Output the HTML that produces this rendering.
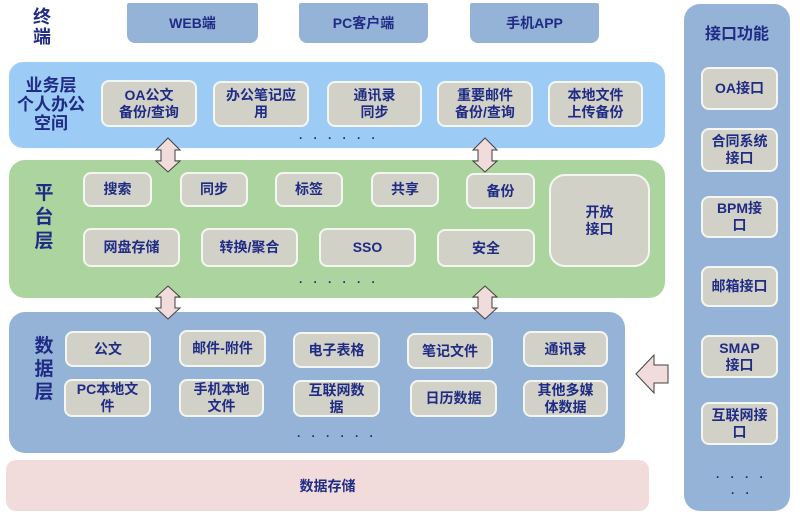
<!DOCTYPE html>
<html><head><meta charset="utf-8">
<style>
html,body{margin:0;padding:0;background:#fff;}
body{width:800px;height:515px;position:relative;overflow:hidden;font-family:"Liberation Sans","Noto Sans CJK SC",sans-serif;font-weight:bold;color:#1f2b85;}
.a{position:absolute;box-sizing:border-box;}
.c{display:flex;align-items:center;justify-content:center;text-align:center;}
.term{background:#95b3d7;border-radius:2px 2px 8px 8px;font-size:14px;}
.bx{background:#d1d1c7;border:2px solid #f4f6f2;border-radius:8px;font-size:14px;line-height:17px;}
.lbl{font-size:17px;line-height:19px;text-align:center;}
.dots{font-size:12px;letter-spacing:10.5px;line-height:10px;white-space:nowrap;}
</style></head><body>

<!-- terminal -->
<div class="a lbl" style="left:30px;top:7px;width:24px;font-size:18px;line-height:20px;">终<br>端</div>
<div class="a c term" style="left:127px;top:3px;width:131px;height:40px;">WEB端</div>
<div class="a c term" style="left:299px;top:3px;width:129px;height:40px;">PC客户端</div>
<div class="a c term" style="left:470px;top:3px;width:129px;height:40px;">手机APP</div>

<!-- business layer -->
<div class="a" style="left:9px;top:62px;width:656px;height:86px;background:#9ccbf6;border-radius:14px;"></div>
<div class="a lbl" style="left:9px;top:76px;width:84px;line-height:19px;">业务层<br>个人办公<br>空间</div>
<div class="a c bx" style="left:101px;top:80px;width:96px;height:47px;">OA公文<br>备份/查询</div>
<div class="a c bx" style="left:213px;top:81px;width:96px;height:46px;">办公笔记应<br>用</div>
<div class="a c bx" style="left:327px;top:81px;width:95px;height:46px;">通讯录<br>同步</div>
<div class="a c bx" style="left:437px;top:81px;width:96px;height:46px;">重要邮件<br>备份/查询</div>
<div class="a c bx" style="left:548px;top:81px;width:95px;height:46px;">本地文件<br>上传备份</div>
<div class="a dots" style="left:299px;top:133px;">······</div>

<!-- platform layer -->
<div class="a" style="left:9px;top:160px;width:656px;height:138px;background:#acd49e;border-radius:16px;"></div>
<div class="a lbl" style="left:32px;top:182px;width:24px;font-size:19px;line-height:24px;">平<br>台<br>层</div>
<div class="a c bx" style="left:83px;top:172px;width:69px;height:35px;">搜索</div>
<div class="a c bx" style="left:180px;top:172px;width:68px;height:35px;">同步</div>
<div class="a c bx" style="left:275px;top:172px;width:68px;height:35px;">标签</div>
<div class="a c bx" style="left:371px;top:172px;width:68px;height:35px;">共享</div>
<div class="a c bx" style="left:466px;top:173px;width:69px;height:36px;">备份</div>
<div class="a c bx" style="left:549px;top:174px;width:101px;height:93px;border-radius:16px;">开放<br>接口</div>
<div class="a c bx" style="left:83px;top:228px;width:97px;height:39px;">网盘存储</div>
<div class="a c bx" style="left:201px;top:228px;width:97px;height:39px;">转换/聚合</div>
<div class="a c bx" style="left:319px;top:228px;width:97px;height:39px;">SSO</div>
<div class="a c bx" style="left:437px;top:229px;width:98px;height:38px;">安全</div>
<div class="a dots" style="left:299px;top:277px;">······</div>

<!-- data layer -->
<div class="a" style="left:9px;top:312px;width:616px;height:141px;background:#95b3d7;border-radius:16px;"></div>
<div class="a lbl" style="left:32px;top:335px;width:24px;font-size:19px;line-height:23px;">数<br>据<br>层</div>
<div class="a c bx" style="left:65px;top:331px;width:86px;height:36px;">公文</div>
<div class="a c bx" style="left:179px;top:330px;width:87px;height:37px;">邮件-附件</div>
<div class="a c bx" style="left:293px;top:332px;width:87px;height:36px;">电子表格</div>
<div class="a c bx" style="left:407px;top:333px;width:86px;height:36px;">笔记文件</div>
<div class="a c bx" style="left:523px;top:331px;width:85px;height:36px;">通讯录</div>
<div class="a c bx" style="left:64px;top:379px;width:87px;height:38px;">PC本地文<br>件</div>
<div class="a c bx" style="left:179px;top:379px;width:85px;height:38px;">手机本地<br>文件</div>
<div class="a c bx" style="left:293px;top:380px;width:87px;height:37px;">互联网数<br>据</div>
<div class="a c bx" style="left:410px;top:380px;width:87px;height:37px;">日历数据</div>
<div class="a c bx" style="left:523px;top:380px;width:85px;height:37px;">其他多媒<br>体数据</div>
<div class="a dots" style="left:297px;top:431px;">······</div>

<!-- data storage -->
<div class="a c" style="left:6px;top:460px;width:643px;height:51px;background:#f2dcdb;border-radius:10px;font-size:14px;">数据存储</div>

<!-- right panel -->
<div class="a" style="left:684px;top:4px;width:106px;height:507px;background:#95b3d7;border-radius:16px;"></div>
<div class="a c" style="left:684px;top:20px;width:106px;height:24px;font-size:16px;">接口功能</div>
<div class="a c bx" style="left:701px;top:67px;width:77px;height:43px;">OA接口</div>
<div class="a c bx" style="left:701px;top:128px;width:77px;height:44px;">合同系统<br>接口</div>
<div class="a c bx" style="left:701px;top:196px;width:77px;height:42px;">BPM接<br>口</div>
<div class="a c bx" style="left:701px;top:266px;width:77px;height:41px;">邮箱接口</div>
<div class="a c bx" style="left:701px;top:335px;width:77px;height:43px;">SMAP<br>接口</div>
<div class="a c bx" style="left:701px;top:402px;width:77px;height:43px;">互联网接<br>口</div>
<div class="a dots" style="left:716px;top:472px;">····</div>
<div class="a dots" style="left:731px;top:488px;">··</div>

<!-- arrows -->
<svg class="a" style="left:0;top:0;" width="800" height="515" viewBox="0 0 800 515">
  <g fill="#f2dcdb" stroke="#404040" stroke-width="1">
    <path d="M168,138 L180,150 L175,150 L175,161 L180,161 L168,172 L156,161 L161,161 L161,150 L156,150 Z"/>
    <path d="M485,138 L497,150 L492,150 L492,161 L497,161 L485,172 L473,161 L478,161 L478,150 L473,150 Z"/>
    <path d="M168,286 L180,297 L175,297 L175,308 L180,308 L168,319 L156,308 L161,308 L161,297 L156,297 Z"/>
    <path d="M485,286 L497,297 L492,297 L492,308 L497,308 L485,319 L473,308 L478,308 L478,297 L473,297 Z"/>
    <path d="M636,374 L654,355 L654,365 L668,365 L668,383 L654,383 L654,393 Z"/>
  </g>
</svg>
</body></html>
